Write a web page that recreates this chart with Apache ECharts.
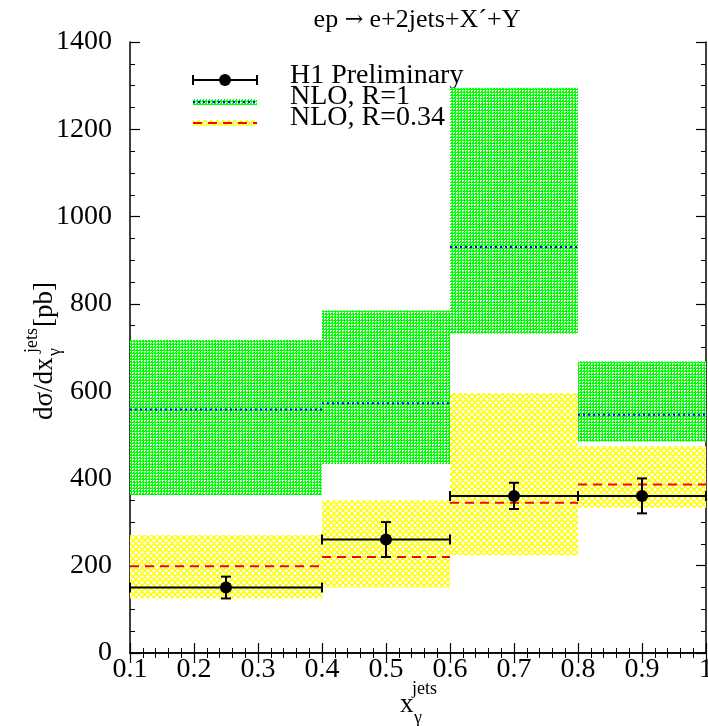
<!DOCTYPE html>
<html>
<head>
<meta charset="utf-8">
<script src="https://cdn.jsdelivr.net/npm/echarts@6/dist/echarts.min.js"></script>
<style>
  html, body { margin: 0; padding: 0; background: #fff; }
  #chart { width: 708px; height: 726px; }
</style>
</head>
<body>
<div id="chart"></div>
<script>
// bins in x_gamma^jets
const binLo = [0.1, 0.4, 0.6, 0.8];
const binHi = [0.4, 0.6, 0.8, 1.0];

// H1 preliminary data
const dataX = [0.25, 0.5, 0.7, 0.9];
const dataY = [150, 260, 360, 360];
const dataErr = [25, 40, 30, 40];

// NLO, R=1 (central, band low, band high)
const nloR1 = [558, 572, 930, 546];
const nloR1Lo = [362, 433, 732, 484];
const nloR1Hi = [717, 785, 1295, 668];

// NLO, R=0.34
const nloR034 = [199, 220, 344, 386];
const nloR034Lo = [125, 150, 224, 332];
const nloR034Hi = [270, 350, 596, 474];

const FONT = '"Liberation Serif", "Times New Roman", serif';

// fill patterns
function makePattern(kind) {
  const c = document.createElement('canvas');
  const n = kind === 'green' ? 3 : 6;
  c.width = n; c.height = n;
  const g = c.getContext('2d');
  g.fillStyle = '#fff';
  g.fillRect(0, 0, n, n);
  for (let x = 0; x < n; x++) {
    for (let y = 0; y < n; y++) {
      let on;
      if (kind === 'green') {
        on = !((x === 0 && y === 0) || (x === 1 && y === 0) || (x === 0 && y === 1));
        g.fillStyle = '#00ff00';
      } else {
        const a = (x + y) % 6, b = (x - y + 6) % 6;
        on = a <= 1 || b <= 1;
        g.fillStyle = '#ffff00';
      }
      if (on) g.fillRect(x, y, 1, 1);
    }
  }
  return { image: c, repeat: 'repeat' };
}
const greenFill = makePattern('green');
const yellowFill = makePattern('yellow');

function bandData(lo, hi) {
  return binLo.map((x, i) => [x, binHi[i], lo[i], hi[i]]);
}
function levelData(v) {
  return binLo.map((x, i) => [x, binHi[i], v[i]]);
}

function bandSeries(data, fill) {
  return {
    type: 'custom',
    data: data,
    encode: { x: [0, 1], y: [2, 3] },
    renderItem: function (params, api) {
      const p0 = api.coord([api.value(0), api.value(3)]);
      const p1 = api.coord([api.value(1), api.value(2)]);
      return {
        type: 'rect',
        shape: { x: p0[0], y: p0[1], width: p1[0] - p0[0], height: p1[1] - p0[1] },
        style: { fill: fill }
      };
    },
    silent: true,
    z: 1
  };
}

function levelSeries(data, color, dash) {
  return {
    type: 'custom',
    data: data,
    encode: { x: [0, 1], y: 2 },
    renderItem: function (params, api) {
      const p0 = api.coord([api.value(0), api.value(2)]);
      const p1 = api.coord([api.value(1), api.value(2)]);
      return {
        type: 'line',
        shape: { x1: p0[0], y1: p0[1], x2: p1[0], y2: p1[1] },
        style: { stroke: color, lineWidth: 2, lineDash: dash }
      };
    },
    silent: true,
    z: 3
  };
}

const errData = dataX.map((x, i) => [x, dataY[i], dataErr[i], binLo[i], binHi[i]]);

const chart = echarts.init(document.getElementById('chart'));

const axisCommon = {
  axisLine: { lineStyle: { color: '#000', width: 1.5 } },
  axisTick: { inside: true, length: 10, lineStyle: { color: '#000', width: 1.2 } },
  minorTick: { show: true, length: 5, lineStyle: { color: '#000', width: 1 } },
  splitLine: { show: false }
};

const option = {
  animation: false,
  backgroundColor: '#fff',
  grid: { left: 130, right: 2, top: 42, bottom: 73, containLabel: false, outerBoundsMode: 'none' },
  xAxis: [
    Object.assign({
      type: 'value', min: 0.1, max: 1, interval: 0.1, position: 'bottom',
      axisLabel: {
        color: '#000', fontFamily: FONT, fontSize: 28, margin: 3,
        formatter: v => (Math.abs(v - 1) < 1e-9 ? '1' : v.toFixed(1))
      }
    }, axisCommon, { minorTick: Object.assign({}, axisCommon.minorTick, { splitNumber: 5 }) }),
    Object.assign({
      type: 'value', min: 0.1, max: 1, interval: 0.1, position: 'top',
      axisLabel: { show: false }
    }, axisCommon, { minorTick: Object.assign({}, axisCommon.minorTick, { splitNumber: 5 }) })
  ],
  yAxis: [
    Object.assign({
      type: 'value', min: 0, max: 1400, interval: 200, position: 'left',
      axisLabel: { color: '#000', fontFamily: FONT, fontSize: 28, margin: 18, formatter: v => String(v) }
    }, axisCommon, { minorTick: Object.assign({}, axisCommon.minorTick, { splitNumber: 4 }) }),
    Object.assign({
      type: 'value', min: 0, max: 1400, interval: 200, position: 'right',
      axisLabel: { show: false }
    }, axisCommon, { minorTick: Object.assign({}, axisCommon.minorTick, { splitNumber: 4 }) })
  ],
  series: [
    bandSeries(bandData(nloR034Lo, nloR034Hi), yellowFill),
    bandSeries(bandData(nloR1Lo, nloR1Hi), greenFill),
    levelSeries(levelData(nloR1), '#0000ff', [2, 3]),
    levelSeries(levelData(nloR034), '#ff0000', [9, 6]),
    {
      type: 'custom',
      data: errData,
      encode: { x: 0, y: 1 },
      renderItem: function (params, api) {
        const c = api.coord([api.value(0), api.value(1)]);
        const top = api.coord([api.value(0), api.value(1) + api.value(2)]);
        const bot = api.coord([api.value(0), api.value(1) - api.value(2)]);
        const left = api.coord([api.value(3), api.value(1)]);
        const right = api.coord([api.value(4), api.value(1)]);
        const st = { stroke: '#000', lineWidth: 2 };
        return {
          type: 'group',
          children: [
            { type: 'line', shape: { x1: left[0], y1: c[1], x2: right[0], y2: c[1] }, style: st },
            { type: 'line', shape: { x1: left[0], y1: c[1] - 5, x2: left[0], y2: c[1] + 5 }, style: st },
            { type: 'line', shape: { x1: right[0], y1: c[1] - 5, x2: right[0], y2: c[1] + 5 }, style: st },
            { type: 'line', shape: { x1: c[0], y1: top[1], x2: c[0], y2: bot[1] }, style: st },
            { type: 'line', shape: { x1: c[0] - 5, y1: top[1], x2: c[0] + 5, y2: top[1] }, style: st },
            { type: 'line', shape: { x1: c[0] - 5, y1: bot[1], x2: c[0] + 5, y2: bot[1] }, style: st },
            { type: 'circle', shape: { cx: c[0], cy: c[1], r: 6 }, style: { fill: '#000' } }
          ]
        };
      },
      silent: true,
      z: 5
    }
  ],
  graphic: [
    // title
    {
      type: 'text', x: 417, y: 20, z: 10,
      style: {
        text: 'ep {a|\u2192} e+2jets+X\u00b4+Y', font: '26px ' + FONT, fill: '#000', align: 'center', verticalAlign: 'middle',
        rich: { a: { fontFamily: '"DejaVu Serif", serif', fontSize: 22, fill: '#000' } }
      }
    },
    // legend: H1 Preliminary
    { type: 'line', shape: { x1: 193, y1: 80, x2: 257, y2: 80 }, style: { stroke: '#000', lineWidth: 2 } },
    { type: 'line', shape: { x1: 193, y1: 75, x2: 193, y2: 85 }, style: { stroke: '#000', lineWidth: 2 } },
    { type: 'line', shape: { x1: 257, y1: 75, x2: 257, y2: 85 }, style: { stroke: '#000', lineWidth: 2 } },
    { type: 'circle', shape: { cx: 225, cy: 80, r: 6 }, style: { fill: '#000' } },
    { type: 'text', x: 290, y: 76, style: { text: 'H1 Preliminary', font: '28px ' + FONT, fill: '#000', verticalAlign: 'middle' } },
    // legend: NLO, R=1
    { type: 'rect', shape: { x: 193, y: 99, width: 64, height: 6 }, style: { fill: greenFill } },
    { type: 'line', shape: { x1: 193, y1: 102, x2: 257, y2: 102 }, style: { stroke: '#0000ff', lineWidth: 2, lineDash: [2, 3] } },
    { type: 'text', x: 290, y: 97, style: { text: 'NLO, R=1', font: '28px ' + FONT, fill: '#000', verticalAlign: 'middle' } },
    // legend: NLO, R=0.34
    { type: 'rect', shape: { x: 193, y: 120, width: 64, height: 6 }, style: { fill: yellowFill } },
    { type: 'line', shape: { x1: 193, y1: 123, x2: 257, y2: 123 }, style: { stroke: '#ff0000', lineWidth: 2, lineDash: [9, 6] } },
    { type: 'text', x: 290, y: 118, style: { text: 'NLO, R=0.34', font: '28px ' + FONT, fill: '#000', verticalAlign: 'middle' } },
    // y axis title
    { type: 'text', x: 45, y: 420, rotation: Math.PI / 2, style: { text: 'd\u03c3/dx', font: '27px ' + FONT, fill: '#000', align: 'left', verticalAlign: 'middle' } },
    { type: 'text', x: 32, y: 353, rotation: Math.PI / 2, style: { text: 'jets', font: '18px ' + FONT, fill: '#000', align: 'left', verticalAlign: 'middle' } },
    { type: 'text', x: 55, y: 356, rotation: Math.PI / 2, style: { text: '\u03b3', font: '18px ' + FONT, fill: '#000', align: 'left', verticalAlign: 'middle' } },
    { type: 'text', x: 45, y: 327, rotation: Math.PI / 2, style: { text: '[pb]', font: '27px ' + FONT, fill: '#000', align: 'left', verticalAlign: 'middle' } },
    // x axis title
    { type: 'text', x: 400, y: 705, style: { text: 'x', font: '27px ' + FONT, fill: '#000', verticalAlign: 'middle' } },
    { type: 'text', x: 412, y: 689, style: { text: 'jets', font: '18px ' + FONT, fill: '#000', verticalAlign: 'middle' } },
    { type: 'text', x: 414, y: 718, style: { text: '\u03b3', font: '18px ' + FONT, fill: '#000', verticalAlign: 'middle' } }
  ]
};

chart.setOption(option);
</script>
</body>
</html>
